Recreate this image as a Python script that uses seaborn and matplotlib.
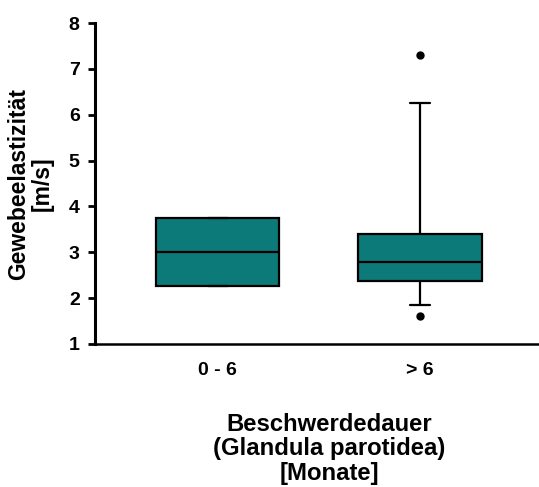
import matplotlib
matplotlib.use("Agg")
import matplotlib.pyplot as plt
import pandas as pd
import seaborn as sns

# Tissue elasticity (shear wave speed, m/s) of the parotid gland by symptom duration
groups = ["0 - 6", "> 6"]
elasticity_0_6 = [2.26, 2.26, 3.00, 3.74, 3.74]
elasticity_over_6 = [1.61, 1.85, 2.33, 2.41, 2.60, 2.78, 3.00, 3.30, 3.50, 6.25, 7.30]
y_ticks = [1, 2, 3, 4, 5, 6, 7, 8]

df = pd.DataFrame({
    "dauer": [groups[0]] * len(elasticity_0_6) + [groups[1]] * len(elasticity_over_6),
    "elastizitaet": elasticity_0_6 + elasticity_over_6,
})

sns.set_theme(style="ticks")
plt.rcParams["font.family"] = ["Liberation Sans", "DejaVu Sans"]
plt.rcParams["font.weight"] = "bold"
plt.rcParams["axes.labelweight"] = "bold"

fig = plt.figure(figsize=(5.39, 4.87), dpi=100)
ax = fig.add_axes([95 / 539, 143 / 487, 444 / 539, 321 / 487])

sns.boxplot(
    data=df, x="dauer", y="elastizitaet", order=groups,
    color="#0d7a7a", saturation=1, width=0.61, whis=(5, 95),
    linewidth=1.6, linecolor="black", capwidths=0.1,
    flierprops=dict(marker="o", markersize=5, markerfacecolor="black",
                    markeredgecolor="black"),
    ax=ax,
)

ax.set_xlim(-0.607, 1.588)
ax.set_ylim(1, 8)
ax.set_yticks(y_ticks)
ax.set_yticklabels([str(t) for t in y_ticks])

sns.despine(ax=ax)
ax.spines["left"].set_linewidth(2.2)
ax.spines["bottom"].set_linewidth(1.8)
ax.spines["left"].set_color("black")
ax.spines["bottom"].set_color("black")

ax.tick_params(axis="y", length=5, width=2, direction="out", labelsize=14,
               colors="black", pad=6)
ax.tick_params(axis="x", length=0, pad=13, labelsize=14, labelcolor="black")

ax.set_ylabel("Gewebeelastizität\n[m/s]", fontsize=16.5, fontweight="bold",
              linespacing=1.05, color="black")
ax.yaxis.set_label_coords(-0.093, 0.5)
ax.set_xlabel("Beschwerdedauer\n(Glandula parotidea)\n[Monate]", fontsize=17.2,
              fontweight="bold", linespacing=1.08, color="black")
ax.xaxis.set_label_coords(0.527, -0.215)

fig.savefig("out.png", dpi=100)
